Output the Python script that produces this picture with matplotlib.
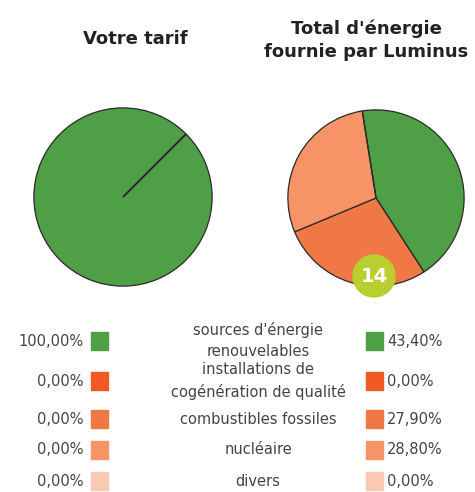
import matplotlib.pyplot as plt
from matplotlib.patches import Rectangle, Circle

categories = ["sources d'énergie\nrenouvelables",
              "installations de\ncogénération de qualité",
              "combustibles fossiles",
              "nucléaire",
              "divers"]
tarif = [100.0, 0.0, 0.0, 0.0, 0.0]
luminus = [43.4, 0.0, 27.9, 28.8, 0.0]
colors = ["#4e9f46", "#f15a24", "#f07845", "#f69468", "#fbc9b1"]
titles = ["Votre tarif", "Total d'énergie\nfournie par Luminus"]
badge = "14"


def pct(v):
    return f"{v:.2f}".replace(".", ",") + "%"


W, H = 475, 492
fig = plt.figure(figsize=(W / 100, H / 100), dpi=100)


def pie_axes(cx, cy, r):
    return fig.add_axes([(cx - r) / W, (H - cy - r) / H, 2 * r / W, 2 * r / H])


ax1 = pie_axes(123, 197, 90)
ax1.pie(tarif, colors=colors, startangle=45, counterclock=False,
        wedgeprops=dict(edgecolor="#2a2a2a", linewidth=0.9))
ax1.set_xlim(-1.01, 1.01)
ax1.set_ylim(-1.01, 1.01)

ax2 = pie_axes(376, 198, 89)
ax2.pie(luminus, colors=colors, startangle=99, counterclock=False,
        wedgeprops=dict(edgecolor="#2a2a2a", linewidth=0.9))
ax2.set_xlim(-1.01, 1.01)
ax2.set_ylim(-1.01, 1.01)

# overlay in pixel coords for titles / legend
ov = fig.add_axes([0, 0, 1, 1])
ov.set_xlim(0, W)
ov.set_ylim(H, 0)
ov.axis("off")
ov.patch.set_alpha(0)

ov.text(135, 39, titles[0], ha="center", va="center", fontsize=13,
        fontweight="bold", color="#222222")
ov.text(366, 40, titles[1], ha="center", va="center", fontsize=13,
        fontweight="bold", color="#222222", linespacing=1.35)

ov.add_patch(Circle((374, 276), 21, color="#b8cf2f", zorder=5))
ov.text(374, 277, badge, ha="center", va="center", fontsize=14,
        fontweight="bold", color="white", zorder=6)

rows_y = [341, 381, 419, 450, 481]
for y, cat, a, b, c in zip(rows_y, categories, tarif, luminus, colors):
    ov.text(84, y, pct(a), ha="right", va="center", fontsize=10.5, color="#444444")
    ov.add_patch(Rectangle((91, y - 9), 17, 18, color=c))
    ov.text(258, y, cat, ha="center", va="center", fontsize=10.5,
            color="#444444", linespacing=1.5)
    ov.add_patch(Rectangle((366, y - 9), 17, 18, color=c))
    ov.text(387, y, pct(b), ha="left", va="center", fontsize=10.5, color="#444444")

fig.savefig("out.png", dpi=100)
